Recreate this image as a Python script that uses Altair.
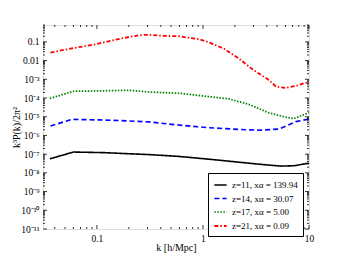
import altair as alt
import pandas as pd
import math

# ---- data ----
labels = ["z=11, xα = 139.94", "z=14, xα = 30.07", "z=17, xα = 5.00", "z=21, xα = 0.09"]

k_z11 = [0.036, 0.06, 0.12, 0.2, 0.31, 0.59, 1.13, 2.2, 3.4, 5.4, 7.2, 10]
p_z11 = [5.6e-8, 1.3e-7, 1.2e-7, 1.05e-7, 9.5e-8, 7.6e-8, 5.4e-8, 3.7e-8, 2.9e-8, 2.3e-8, 2.4e-8, 3.3e-8]

k_z14 = [0.0365, 0.058, 0.104, 0.17, 0.31, 0.59, 1.13, 2.18, 3.4, 5.2, 6.4, 7.5, 10]
p_z14 = [3.2e-6, 7.2e-6, 6.8e-6, 6.2e-6, 5.3e-6, 3.6e-6, 2.6e-6, 2.1e-6, 1.9e-6, 2.2e-6, 3.6e-6, 5.5e-6, 7.5e-6]

k_z17 = [0.036, 0.06, 0.104, 0.2, 0.31, 0.59, 1.13, 1.75, 2.7, 4.2, 5.8, 7.2, 8.0, 10]
p_z17 = [9.5e-5, 2.3e-4, 2.4e-4, 2.6e-4, 2.1e-4, 1.8e-4, 1.2e-4, 9e-5, 4.6e-5, 1.6e-5, 1e-5, 7.9e-6, 1e-5, 1.65e-5]

k_z21 = [0.0365, 0.058, 0.097, 0.167, 0.25, 0.31, 0.43, 0.59, 0.91, 1.13, 1.57, 2.18, 3.0, 4.2, 4.9, 6.0, 7.5, 9.3, 10]
p_z21 = [0.027, 0.045, 0.075, 0.15, 0.23, 0.24, 0.21, 0.2, 0.14, 0.096, 0.044, 0.013, 3.1e-3, 9.1e-4, 4e-4, 3.5e-4, 4.4e-4, 6.5e-4, 7e-4]

x_major = [0.1, 1, 10]
x_major_labels = ["0.1", "1", "10"]
y_major = [1e-1, 1e-2, 1e-3, 1e-4, 1e-5, 1e-6, 1e-7, 1e-8, 1e-9, 1e-10, 1e-11]
y_major_labels = ["0.1", "0.01", "10⁻³", "10⁻⁴", "10⁻⁵", "10⁻⁶", "10⁻⁷", "10⁻⁸", "10⁻⁹", "10⁻¹⁰", "10⁻¹¹"]

colors = ["#000000", "#0000ff", "#008000", "#ff0000"]
dashes = [[1, 0], [5, 3], [1.5, 1.5], [4, 2, 1.5, 2]]
widths = [1.6, 1.8, 1.4, 1.5]

# ---- layout ----
W, H = 266, 204
XD = [0.031, 10]
YD = [1e-11, 0.8]
FONT = "Liberation Serif"

rows = []
for lab, ks, ps in zip(labels, [k_z11, k_z14, k_z17, k_z21], [p_z11, p_z14, p_z17, p_z21]):
    for k, p in zip(ks, ps):
        rows.append({"k": k, "P": p, "series": lab})
df = pd.DataFrame(rows)

xs = alt.Scale(type="log", domain=XD, nice=False)
ys = alt.Scale(type="log", domain=YD, nice=False)


def label_expr(vals, labs):
    expr = "''"
    for v, l in zip(vals, labs):
        expr = f"(abs(log(datum.value)/LN10 - ({math.log10(v)})) < 0.01) ? '{l}' : {expr}"
    return expr


def minor_ticks(lo, hi):
    out = []
    for e in range(-12, 2):
        for m in range(2, 10):
            v = m * 10.0 ** e
            if lo <= v <= hi:
                out.append(v)
    return out


x_minor = minor_ticks(*XD)
y_minor = minor_ticks(*YD)
x_maj_in = [v for v in x_major if XD[0] <= v <= XD[1]]
y_maj_in = [v for v in y_major if YD[0] <= v <= YD[1]]

x_axis = alt.Axis(
    values=x_major, labelExpr=label_expr(x_major, x_major_labels),
    ticks=False, domain=False, grid=False, title="k [h/Mpc]",
    labelPadding=4, labelFont=FONT, labelFontSize=9.5, labelColor="black",
    titleFont=FONT, titleFontSize=10, titleFontWeight="normal", titleColor="black",
    titleY=13, titleBaseline="top", labelFlush=False)
y_axis = alt.Axis(
    values=y_major, labelExpr=label_expr(y_major, y_major_labels),
    ticks=False, domain=False, grid=False, title="k³P(k)/2π²",
    labelPadding=4, labelFont=FONT, labelFontSize=9.5, labelColor="black",
    titleFont=FONT, titleFontSize=10, titleFontWeight="normal", titleColor="black",
    titleX=-27, titleY=H / 2, titleAngle=-90, titleAlign="center",
    titleBaseline="middle", labelFlush=False)

legend = alt.Legend(
    title=None, orient="none", legendX=165, legendY=148,
    strokeColor="black", fillColor="white", padding=5,
    labelFont=FONT, labelFontSize=9, labelColor="black",
    symbolType="stroke", symbolSize=150, rowPadding=1.5,
)

lines = alt.Chart(df).mark_line(clip=True).encode(
    x=alt.X("k:Q", scale=xs, axis=x_axis),
    y=alt.Y("P:Q", scale=ys, axis=y_axis),
    color=alt.Color("series:N", scale=alt.Scale(domain=labels, range=colors), legend=legend),
    strokeDash=alt.StrokeDash("series:N", scale=alt.Scale(domain=labels, range=dashes), legend=legend),
    strokeWidth=alt.StrokeWidth("series:N", scale=alt.Scale(domain=labels, range=widths), legend=legend),
)


def xticks(vals, y0, y1):
    return alt.Chart(pd.DataFrame({"k": vals})).mark_rule(color="black", strokeWidth=0.8).encode(
        x=alt.X("k:Q", scale=xs, axis=x_axis), y=alt.value(y0), y2=alt.value(y1))


def yticks(vals, x0, x1):
    return alt.Chart(pd.DataFrame({"P": vals})).mark_rule(color="black", strokeWidth=0.8).encode(
        y=alt.Y("P:Q", scale=ys, axis=y_axis), x=alt.value(x0), x2=alt.value(x1))


MAJ, MIN = 4, 2
tick_layers = [
    xticks(x_maj_in, H, H - MAJ), xticks(x_minor, H, H - MIN),
    xticks(x_maj_in, 0, MAJ), xticks(x_minor, 0, MIN),
    yticks(y_maj_in, 0, MAJ), yticks(y_minor, 0, MIN),
    yticks(y_maj_in, W, W - MAJ), yticks(y_minor, W, W - MIN),
]

chart = alt.layer(lines, *tick_layers).properties(
    width=W, height=H,
    autosize=alt.AutoSizeParams(type="none"),
    padding={"left": 35, "top": 17, "right": 20, "bottom": 24},
).configure_view(stroke="black", strokeWidth=1).configure(background="white")

chart.save("out.html", embed_options={"renderer": "svg", "actions": False})
